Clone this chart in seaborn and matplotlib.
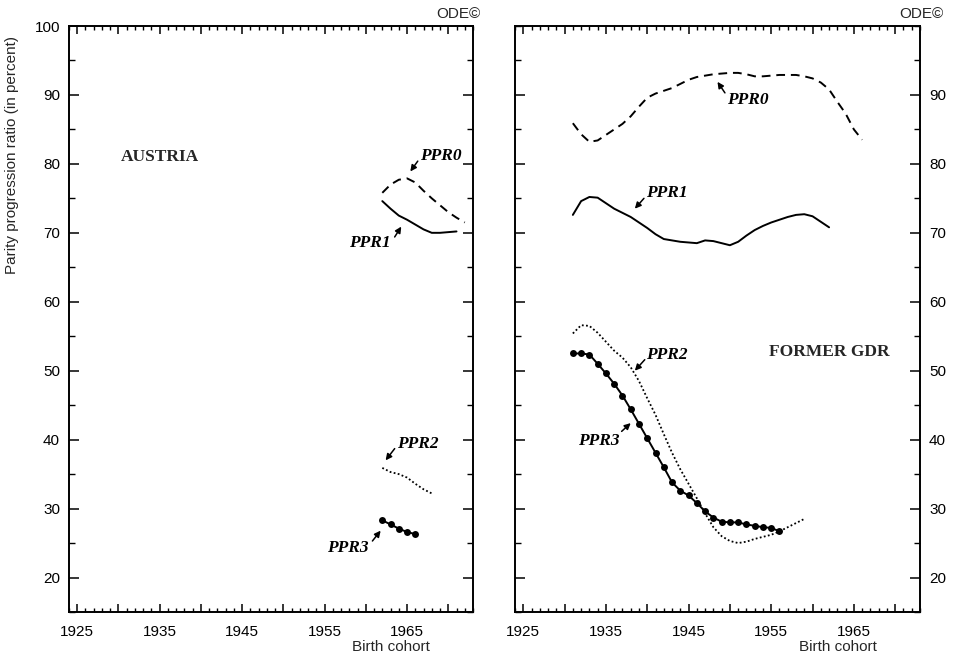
import numpy as np
import pandas as pd
import matplotlib
matplotlib.use("Agg")
import matplotlib.pyplot as plt
from matplotlib.ticker import MultipleLocator, FixedLocator, FuncFormatter
import seaborn as sns

# ---------------- data ----------------
at_years_ppr0 = list(range(1962, 1973))
at_ppr0 = [75.8, 77.0, 77.7, 77.9, 77.3, 76.1, 75.0, 74.0, 73.0, 72.2, 71.5]
at_years_ppr1 = list(range(1962, 1972))
at_ppr1 = [74.6, 73.5, 72.5, 71.9, 71.2, 70.5, 70.0, 70.0, 70.1, 70.2]
at_years_ppr2 = list(range(1962, 1969))
at_ppr2 = [35.9, 35.3, 35.0, 34.5, 33.6, 32.8, 32.2]
at_years_ppr3 = list(range(1962, 1967))
at_ppr3 = [28.3, 27.7, 27.1, 26.6, 26.3]

gdr_years_ppr0 = list(range(1931, 1967))
gdr_ppr0 = [85.9, 84.3, 83.2, 83.4, 84.2, 85.0, 85.8, 86.9, 88.3, 89.6,
            90.2, 90.6, 91.0, 91.6, 92.2, 92.6, 92.8, 93.0, 93.1, 93.2,
            93.2, 93.0, 92.7, 92.7, 92.8, 92.9, 92.9, 92.9, 92.7, 92.4,
            91.8, 90.8, 89.0, 87.3, 85.0, 83.5]
gdr_years_ppr1 = list(range(1931, 1963))
gdr_ppr1 = [72.6, 74.6, 75.2, 75.1, 74.3, 73.5, 72.9, 72.3, 71.5, 70.7,
            69.8, 69.1, 68.9, 68.7, 68.6, 68.5, 68.9, 68.8, 68.5, 68.2,
            68.7, 69.6, 70.4, 71.0, 71.5, 71.9, 72.3, 72.6, 72.7, 72.4,
            71.6, 70.8]
gdr_years_ppr2 = list(range(1931, 1960))
gdr_ppr2 = [55.4, 56.6, 56.5, 55.5, 54.2, 52.9, 51.9, 50.5, 48.5, 46.0,
            43.6, 40.8, 38.1, 35.7, 33.6, 31.5, 29.3, 27.3, 26.0, 25.3,
            25.0, 25.2, 25.6, 25.9, 26.2, 26.7, 27.3, 27.9, 28.5]
gdr_years_ppr3 = list(range(1931, 1957))
gdr_ppr3 = [52.5, 52.5, 52.35, 51.0, 49.6, 48.1, 46.4, 44.4, 42.3, 40.2,
            38.1, 36.0, 33.8, 32.6, 31.9, 30.8, 29.6, 28.7, 28.1, 28.0,
            28.0, 27.7, 27.5, 27.3, 27.2, 26.7]

series_names = ["PPR0", "PPR1", "PPR2", "PPR3"]
panel_titles = ["AUSTRIA", "FORMER GDR"]

rows = []
def add(country, name, years, vals):
    for y, v in zip(years, vals):
        rows.append({"country": country, "series": name, "year": y, "value": v})

add("AUSTRIA", "PPR0", at_years_ppr0, at_ppr0)
add("AUSTRIA", "PPR1", at_years_ppr1, at_ppr1)
add("AUSTRIA", "PPR2", at_years_ppr2, at_ppr2)
add("AUSTRIA", "PPR3", at_years_ppr3, at_ppr3)
add("FORMER GDR", "PPR0", gdr_years_ppr0, gdr_ppr0)
add("FORMER GDR", "PPR1", gdr_years_ppr1, gdr_ppr1)
add("FORMER GDR", "PPR2", gdr_years_ppr2, gdr_ppr2)
add("FORMER GDR", "PPR3", gdr_years_ppr3, gdr_ppr3)
df = pd.DataFrame(rows)

# ---------------- style ----------------
sns.set_theme(style="ticks")
plt.rcParams["font.family"] = ["Liberation Sans", "DejaVu Sans"]

styles = {
    "PPR0": dict(linestyle=(0, (4.5, 3)), linewidth=1.4),
    "PPR1": dict(linestyle="-", linewidth=1.4),
    "PPR2": dict(linestyle=(0, (1, 1.3)), linewidth=1.3),
    "PPR3": dict(linestyle="-", linewidth=1.4, marker="o", markersize=5,
                 markeredgewidth=0),
}

fig = plt.figure(figsize=(9.67, 6.63), dpi=100)
ax_l = fig.add_axes([69 / 967, 51 / 663, 404 / 967, 586 / 663])
ax_r = fig.add_axes([515 / 967, 51 / 663, 405 / 967, 586 / 663])

for ax, country in zip([ax_l, ax_r], panel_titles):
    sub = df[df["country"] == country]
    for name in series_names:
        s = sub[sub["series"] == name]
        sns.lineplot(data=s, x="year", y="value", ax=ax, color="black",
                     estimator=None, sort=True, legend=False, **styles[name])
    ax.set_xlim(1924, 1973)
    ax.set_ylim(15, 100)
    ax.set_xlabel("")
    ax.set_ylabel("")
    ax.xaxis.set_major_locator(MultipleLocator(5))
    ax.xaxis.set_minor_locator(MultipleLocator(1))
    ax.xaxis.set_major_formatter(FuncFormatter(
        lambda v, p: f"{int(round(v))}" if int(round(v) - 1925) % 10 == 0 else ""))
    ax.yaxis.set_minor_locator(MultipleLocator(5))
    ax.tick_params(axis="both", which="both", direction="in",
                   top=True, bottom=True, left=True, right=True,
                   color="black", labelsize=11, labelcolor="black")
    ax.tick_params(axis="x", which="major", length=6, width=1.1, pad=9)
    ax.tick_params(axis="x", which="minor", length=3.2, width=1.0)
    ax.tick_params(axis="y", which="major", length=7, width=1.1, pad=6.5)
    ax.tick_params(axis="y", which="minor", length=4, width=1.0)
    for sp in ax.spines.values():
        sp.set_visible(True)
        sp.set_linewidth(1.4)
        sp.set_color("black")

ax_l.yaxis.set_major_locator(FixedLocator([20, 30, 40, 50, 60, 70, 80, 90, 100]))
ax_r.yaxis.set_major_locator(FixedLocator([20, 30, 40, 50, 60, 70, 80, 90]))
ax_r.tick_params(axis="y", which="both", labelleft=False, labelright=True)

# ---------------- annotations ----------------
serif = ["Liberation Serif", "DejaVu Serif"]
lab_kw = dict(fontsize=12.5, fontweight="bold", fontstyle="italic",
              family=serif, va="center", color="black")
arr = dict(arrowstyle="-|>", color="black", lw=1.1, shrinkA=0, shrinkB=0,
           mutation_scale=9)

def label(ax, text, tx, ty, ha, tail, tip):
    ax.text(tx, ty, text, ha=ha, **lab_kw)
    ax.annotate("", xy=tip, xytext=tail, arrowprops=arr)

# Austria
ax_l.text(1935.0, 81.0, "AUSTRIA", fontsize=12.5, fontweight="bold",
          family=serif, ha="center", va="center")
label(ax_l, "PPR0", 1966.6, 81.2, "left", (1966.3, 80.4), (1965.4, 78.9))
label(ax_l, "PPR1", 1963.0, 68.5, "right", (1963.5, 69.4), (1964.3, 70.9))
label(ax_l, "PPR2", 1963.8, 39.3, "left", (1963.5, 38.7), (1962.4, 37.0))
label(ax_l, "PPR3", 1960.4, 24.3, "right", (1960.8, 25.3), (1961.8, 26.8))

# Former GDR
ax_r.text(1962.0, 52.7, "FORMER GDR", fontsize=12.5, fontweight="bold",
          family=serif, ha="center", va="center")
label(ax_r, "PPR0", 1949.7, 89.3, "left", (1949.4, 90.3), (1948.5, 91.9))
label(ax_r, "PPR1", 1939.9, 75.75, "left", (1939.6, 75.0), (1938.5, 73.5))
label(ax_r, "PPR2", 1939.9, 52.3, "left", (1939.7, 51.6), (1938.5, 50.0))
label(ax_r, "PPR3", 1936.65, 39.75, "right", (1936.9, 41.2), (1938.0, 42.4))

# axis texts
fig.text(12 / 967, 1 - 155 / 663, "Parity progression ratio (in percent)",
         rotation=90, ha="center", va="center", fontsize=11)
fig.text(391 / 967, 1 - 647 / 663, "Birth cohort", ha="center", va="center", fontsize=11)
fig.text(838 / 967, 1 - 647 / 663, "Birth cohort", ha="center", va="center", fontsize=11)
fig.text(458 / 967, 1 - 14 / 663, "ODE\u00a9", ha="center", va="center", fontsize=11)
fig.text(921 / 967, 1 - 14 / 663, "ODE\u00a9", ha="center", va="center", fontsize=11)

fig.savefig("out.png", dpi=100, facecolor="white")
